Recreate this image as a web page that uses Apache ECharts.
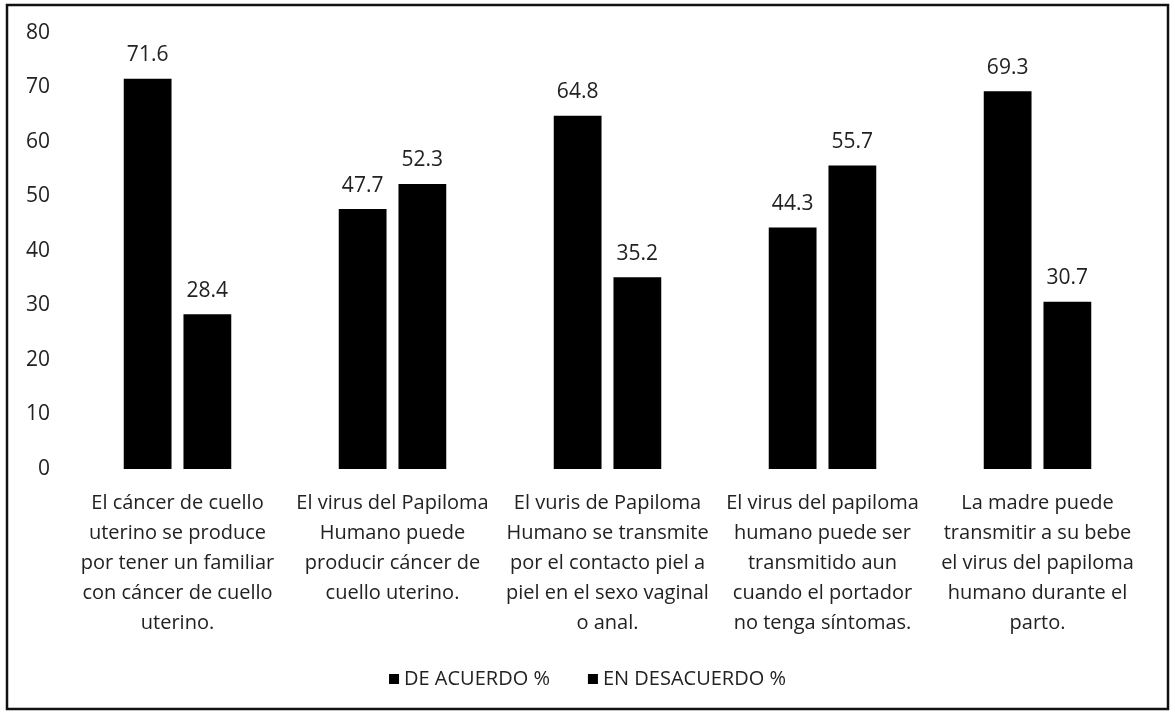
<!DOCTYPE html>
<html>
<head>
<meta charset="utf-8">
<script src="https://cdn.jsdelivr.net/npm/echarts@6/dist/echarts.min.js"></script>
<style>
html,body{margin:0;padding:0;background:#fff;}
#chart{width:1175px;height:715px;}
</style>
</head>
<body>
<div id="chart"></div>
<script>
const categories = [
  "El cáncer de cuello\nuterino se produce\npor tener un familiar\ncon cáncer de cuello\nuterino.",
  "El virus del Papiloma\nHumano puede\nproducir cáncer de\ncuello uterino.",
  "El vuris de Papiloma\nHumano se transmite\npor el contacto piel a\npiel en el sexo vaginal\no anal.",
  "El virus del papiloma\nhumano puede ser\ntransmitido aun\ncuando el portador\nno tenga síntomas.",
  "La madre puede\ntransmitir a su bebe\nel virus del papiloma\nhumano durante el\nparto."
];
const deAcuerdo = [71.6, 47.7, 64.8, 44.3, 69.3];
const enDesacuerdo = [28.4, 52.3, 35.2, 55.7, 30.7];
const seriesNames = ["DE ACUERDO %", "EN DESACUERDO %"];

const font = "'Open Sans', 'Noto Sans', sans-serif";
const chart = echarts.init(document.getElementById('chart'));
const labelStyle = {show: true, position: 'top', distance: 13, color: '#222', fontSize: 21, fontFamily: font};
chart.setOption({
  backgroundColor: '#fff',
  animation: false,
  graphic: [{
    type: 'rect', shape: {x: 7, y: 5, width: 1161, height: 704},
    style: {fill: 'none', stroke: '#111', lineWidth: 2.5}, z: 100
  }],
  legend: {
    top: 664, left: 'center', itemWidth: 10, itemHeight: 10, itemGap: 38,
    icon: 'rect',
    textStyle: {color: '#222', fontSize: 20, fontFamily: font},
    data: seriesNames
  },
  grid: {left: 70, right: 30, top: 33, bottom: 246},
  xAxis: {
    type: 'category', data: categories,
    axisLine: {show: false}, axisTick: {show: false},
    axisLabel: {interval: 0, color: '#222', fontSize: 20, lineHeight: 30, fontFamily: font, margin: 19}
  },
  yAxis: {
    type: 'value', min: 0, max: 80, interval: 10,
    splitLine: {show: false}, axisLine: {show: false}, axisTick: {show: false},
    axisLabel: {color: '#222', fontSize: 21, fontFamily: font, margin: 20}
  },
  series: [
    {name: seriesNames[0], type: 'bar', data: deAcuerdo, barGap: '25%', barCategoryGap: '50%',
     itemStyle: {color: '#000'}, label: labelStyle},
    {name: seriesNames[1], type: 'bar', data: enDesacuerdo,
     itemStyle: {color: '#000'}, label: labelStyle}
  ]
});
</script>
</body>
</html>
